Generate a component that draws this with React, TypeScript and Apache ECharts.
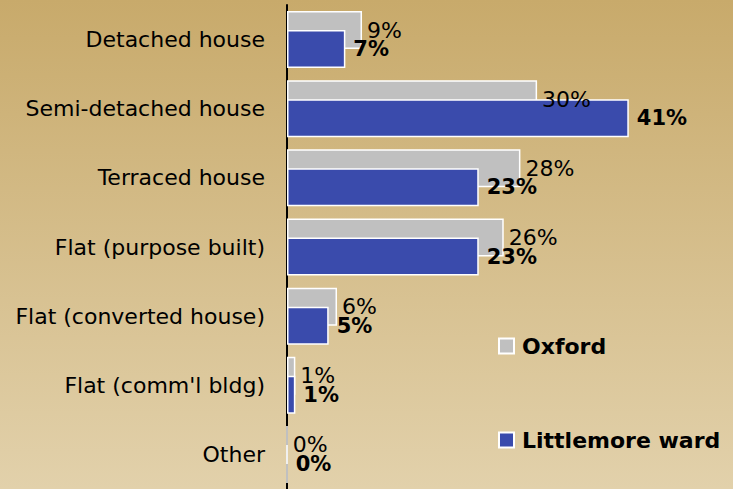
import React, { useEffect, useRef } from "react";
import * as echarts from "echarts";

const categories = [
  "Detached house",
  "Semi-detached house",
  "Terraced house",
  "Flat (purpose built)",
  "Flat (converted house)",
  "Flat (comm'l bldg)",
  "Other",
];
const oxford = [9, 30, 28, 26, 6, 1, 0];
const littlemore = [7, 41, 23, 23, 5, 1, 0];
const seriesNames = ["Oxford", "Littlemore ward"];

const FONT = "'DejaVu Sans', Arial, sans-serif";

export default function App() {
  const ref = useRef<HTMLDivElement>(null);
  useEffect(() => {
    if (!ref.current) return;
    const chart = echarts.init(ref.current, null, { renderer: "svg" });
    chart.setOption({
      animation: false,
      backgroundColor: new echarts.graphic.LinearGradient(0, 0, 0, 1, [
        { offset: 0, color: "#c8aa6b" },
        { offset: 1, color: "#e2d1ab" },
      ]),
      grid: { left: 287, right: 0, top: 5, bottom: -6, containLabel: false },
      xAxis: { type: "value", min: 0, max: 53.5, show: false },
      yAxis: {
        type: "category",
        data: categories,
        inverse: true,
        axisLine: { show: true, lineStyle: { color: "#000", width: 2 } },
        axisTick: { show: false },
        splitLine: { show: false },
        axisLabel: { color: "#000", fontSize: 22, fontFamily: FONT, margin: 22 },
      },
      legend: {
        data: seriesNames,
        orient: "vertical",
        left: 498,
        top: 334,
        padding: 0,
        icon: "rect",
        itemWidth: 15,
        itemHeight: 15,
        itemGap: 70,
        textStyle: {
          color: "#000",
          fontSize: 22,
          fontWeight: "bold",
          fontFamily: FONT,
          lineHeight: 24,
          padding: [0, 0, 0, 3],
        },
      },
      series: [
        {
          name: seriesNames[0],
          type: "bar",
          data: oxford,
          barWidth: 38,
          barGap: "-50%",
          itemStyle: { color: "#c0c0c0", borderColor: "#ffffff", borderWidth: 1.5 },
          label: {
            show: true,
            position: "right",
            distance: 5,
            formatter: "{c}%",
            color: "#000",
            fontSize: 22,
            fontFamily: FONT,
          },
        },
        {
          name: seriesNames[1],
          type: "bar",
          data: littlemore,
          barWidth: 38,
          itemStyle: { color: "#3a4bac", borderColor: "#ffffff", borderWidth: 1.5 },
          label: {
            show: true,
            position: "right",
            distance: 8,
            formatter: "{c}%",
            color: "#000",
            fontSize: 21,
            fontWeight: "bold",
            fontFamily: FONT,
          },
        },
      ],
    });
    return () => chart.dispose();
  }, []);
  return (
    <div
      ref={ref}
      style={{ position: "fixed", left: 0, top: 0, width: 733, height: 489 }}
    />
  );
}
